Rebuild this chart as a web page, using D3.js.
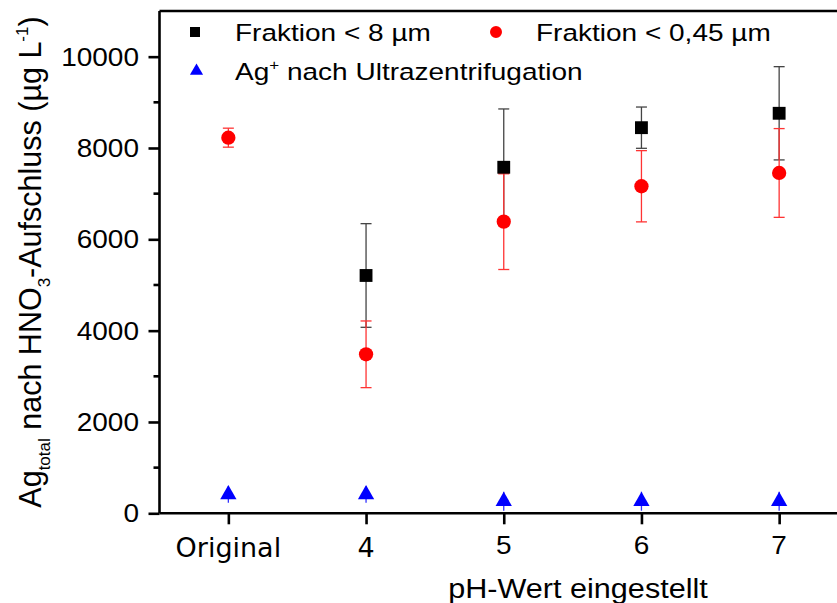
<!DOCTYPE html>
<html><head><meta charset="utf-8">
<script src="https://cdn.jsdelivr.net/npm/d3@7"></script>
<style>body{margin:0;background:#fff}svg{display:block}text{font-family:"Liberation Sans",Arial,sans-serif;fill:#000}</style>
</head><body><svg id="c" width="837" height="603"></svg>
<script>
const categories = ["Original","4","5","6","7"];
const frac8 = [null, 5208, 7578, 8445, 8760];
const frac8Err = [null, 1135, 1277, 452, 1021];
const frac045 = [8226, 3482, 6387, 7162, 7453];
const frac045Err = [208, 730, 1048, 780, 972];
const agIon = [412, 412, 265, 265, 265];
const agIonErr = [180, 180, 208, 208, 208];
const yTicks = [0, 2000, 4000, 6000, 8000, 10000];
const yMinor = [1000, 3000, 5000, 7000, 9000];

const svg = d3.select("#c");
const x = d3.scaleLinear().domain([-0.5, 4.5]).range([159.5, 848]);
const y = d3.scaleLinear().domain([0, 11000]).range([513.3, 11]);
const AX = x(-0.5);

function stext(parent, tx, ty, sy, size, str, anchor, family){
  const g = parent.append("g").attr("transform",`translate(${tx},${ty}) scale(1,${sy})`);
  const t = g.append("text").style("font-size",size+"px").attr("text-anchor",anchor||"start");
  if(family) t.style("font-family",family);
  if(str!=null) t.text(str);
  return t;
}

// top frame line
svg.append("line").attr("x1",AX).attr("x2",837).attr("y1",y(11000)).attr("y2",y(11000)).attr("stroke","#000").attr("stroke-width",2.6);

// y axis
const ya = svg.append("g").attr("transform",`translate(${AX},0)`)
  .call(d3.axisLeft(y).tickValues(yTicks).tickSize(11).tickFormat(""));
ya.select(".domain").attr("stroke-width",2.6).attr("d","M0,"+y(0)+"V"+y(11000));
ya.selectAll(".tick line").attr("stroke-width",2.6);
svg.append("g").selectAll("line").data(yMinor).join("line")
  .attr("x1",AX).attr("x2",AX-6).attr("y1",d=>y(d)).attr("y2",d=>y(d)).attr("stroke","#000").attr("stroke-width",2.6);
const ytl = svg.append("g");
yTicks.forEach(v=>stext(ytl, 139, y(v)+9, 0.9, 28, d3.format("d")(v), "end"));

// x axis
const xa = svg.append("g").attr("transform",`translate(0,${y(0)})`)
  .call(d3.axisBottom(x).tickValues(d3.range(categories.length)).tickSize(11).tickFormat(""));
xa.select(".domain").attr("stroke-width",2.6).attr("d",`M${AX},0H837`);
xa.selectAll(".tick line").attr("stroke-width",2.6);
const xtl = svg.append("g");
categories.forEach((c,i)=>{
  const dv = i<2;
  stext(xtl, x(i), dv?557:554, dv?0.97:0.9, dv?27:28, c, "middle", dv?"DejaVu Sans":null);
});

stext(svg, 578, 598, 0.91, 30.6, "pH-Wert eingestellt", "middle");

// y label
const yl = svg.append("text").attr("transform","translate(41,262) rotate(-90)").attr("text-anchor","middle").style("font-size","30.5px");
yl.append("tspan").text("Ag");
yl.append("tspan").attr("dy",9).style("font-size","17px").text("total");
yl.append("tspan").attr("dy",-9).text(" nach HNO");
yl.append("tspan").attr("dy",9).style("font-size","17px").text("3");
yl.append("tspan").attr("dy",-9).text("-Aufschluss (µg L");
yl.append("tspan").attr("dy",-13).style("font-size","17px").text("-1");
yl.append("tspan").attr("dy",13).text(")");

function errbars(vals, errs, color, cap){
  const d = vals.map((v,i)=>({i,v,e:errs[i]})).filter(o=>o.v!=null);
  const g = svg.append("g").attr("stroke",color).attr("stroke-width",1.3).attr("fill","none");
  g.selectAll(".v").data(d).join("line").attr("x1",o=>x(o.i)).attr("x2",o=>x(o.i)).attr("y1",o=>y(o.v+o.e)).attr("y2",o=>y(o.v-o.e));
  if(cap>0){
    g.selectAll(".t").data(d).join("line").attr("x1",o=>x(o.i)-cap).attr("x2",o=>x(o.i)+cap).attr("y1",o=>y(o.v+o.e)).attr("y2",o=>y(o.v+o.e));
    g.selectAll(".b").data(d).join("line").attr("x1",o=>x(o.i)-cap).attr("x2",o=>x(o.i)+cap).attr("y1",o=>y(o.v-o.e)).attr("y2",o=>y(o.v-o.e));
  }
}
errbars(frac8, frac8Err, "#444", 5.5);
errbars(frac045, frac045Err, "#f33", 5.5);
errbars(agIon, agIonErr, "#33f", 0);

const sq = d3.symbol(d3.symbolSquare, 165);
const ci = d3.symbol(d3.symbolCircle, 160);
const tr = d3.symbol(d3.symbolTriangle, 115);

svg.append("g").selectAll("path").data(frac045.map((v,i)=>({i,v}))).join("path")
  .attr("d",ci).attr("fill","#f00").attr("transform",o=>`translate(${x(o.i)},${y(o.v)})`);
svg.append("g").selectAll("path").data(frac8.map((v,i)=>({i,v})).filter(o=>o.v!=null)).join("path")
  .attr("d",sq).attr("fill","#000").attr("transform",o=>`translate(${x(o.i)},${y(o.v)})`);
svg.append("g").selectAll("path").data(agIon.map((v,i)=>({i,v}))).join("path")
  .attr("d",tr).attr("fill","#00f").attr("transform",o=>`translate(${x(o.i)},${y(o.v)})`);

// legend
const lg = svg.append("g");
lg.append("path").attr("d",d3.symbol(d3.symbolSquare,100)).attr("fill","#000").attr("transform","translate(195,32)");
stext(lg, 235, 41, 0.86, 28, "Fraktion < 8 µm");
lg.append("path").attr("d",d3.symbol(d3.symbolCircle,113)).attr("fill","#f00").attr("transform","translate(496,32)");
stext(lg, 536, 41, 0.86, 28, "Fraktion < 0,45 µm");
lg.append("path").attr("d",d3.symbol(d3.symbolTriangle,75)).attr("fill","#00f").attr("transform","translate(196.5,71)");
const t3 = stext(lg, 235, 80, 0.86, 28, null);
t3.append("tspan").text("Ag");
t3.append("tspan").attr("dy",-12).style("font-size","17px").text("+");
t3.append("tspan").attr("dy",12).text(" nach Ultrazentrifugation");
</script></body></html>
